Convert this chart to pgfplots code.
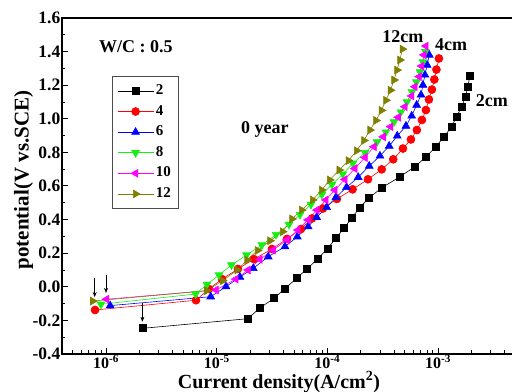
\documentclass[border=0pt]{standalone}
\usepackage{fontspec}
\setmainfont{Liberation Serif}
\usepackage{pgfplots}
\pgfplotsset{compat=1.18}
\usetikzlibrary{arrows.meta}
\definecolor{cOlive}{RGB}{128,128,0}
\definecolor{cGreen}{RGB}{20,240,20}
\definecolor{cMag}{RGB}{255,0,255}
\definecolor{cBlue}{RGB}{0,0,255}
\definecolor{cRed}{RGB}{255,0,0}
\begin{document}
\begin{tikzpicture}
\path[use as bounding box, clip] (0bp,0bp) rectangle (512bp,392bp);
\begin{axis}[
  at={(62bp,38bp)}, anchor=south west,
  scale only axis, width=452bp, height=336bp,
  xmode=log, xmin=4e-7, xmax=4.86e-3, ymin=-0.4, ymax=1.6,
  tick pos=left,
  axis line style={line width=1.3bp},
  major tick style={line width=1bp, black}, minor tick style={line width=0.9bp, black},
  major tick length=6bp, minor tick length=3.5bp,
  xtick={1e-6,1e-5,1e-4,1e-3},
  xticklabels={10\textsuperscript{-6},10\textsuperscript{-5},10\textsuperscript{-4},10\textsuperscript{-3}},
  minor xtick={5e-7,6e-7,7e-7,8e-7,9e-7,2e-6,3e-6,4e-6,5e-6,6e-6,7e-6,8e-6,9e-6,2e-5,3e-5,4e-5,5e-5,6e-5,7e-5,8e-5,9e-5,2e-4,3e-4,4e-4,5e-4,6e-4,7e-4,8e-4,9e-4,2e-3,3e-3,4e-3},
  ytick={-0.4,-0.2,0,0.2,0.4,0.6,0.8,1.0,1.2,1.4,1.6},
  minor ytick={-0.3,-0.1,0.1,0.3,0.5,0.7,0.9,1.1,1.3,1.5},
  yticklabel style={/pgf/number format/.cd, fixed, fixed zerofill, precision=1, assume math mode=true, /tikz/.cd, font=\bfseries\fontsize{17.5bp}{20bp}\selectfont, inner sep=1.5bp},
  xticklabel style={font=\bfseries\fontsize{16bp}{18bp}\selectfont, inner sep=0.5bp},
  xlabel={Current density(A/cm\textsuperscript{2})},
  xlabel style={at={(axis description cs:0.48,0)}, anchor=base, yshift=-34bp, font=\bfseries\fontsize{20bp}{24bp}\selectfont},
  ylabel={potential(V vs.SCE)},
  ylabel style={at={(axis description cs:-0.085,0.518)}, anchor=center, font=\bfseries\fontsize{21bp}{24bp}\selectfont},
  legend style={at={(axis description cs:0.1106,0.827)}, anchor=north west, draw=black!70, line width=0.6bp,
    font=\bfseries\fontsize{15bp}{17bp}\selectfont, inner sep=5bp, row sep=1.6bp,
    nodes={inner sep=2bp, text height=11bp, text depth=4bp}},
  legend cell align=left,
  legend image code/.code={\draw[mark repeat=2,mark phase=2] plot coordinates {(0bp,0bp)(18bp,0bp)(36bp,0bp)};},
]
\addplot[color=black, line width=0.6bp, mark=square*, mark size=3.5bp, mark options={solid}] coordinates {
(2.16e-6,-0.247)(1.905e-5,-0.190)(2.46e-5,-0.126)(3.30e-5,-0.068)(4.14e-5,-0.011)(5.28e-5,0.051)(6.58e-5,0.108)(8.22e-5,0.167)(1.007e-4,0.229)(1.197e-4,0.290)(1.42e-4,0.350)(1.667e-4,0.411)(1.97e-4,0.473)(2.39e-4,0.530)(3.11e-4,0.590)(4.53e-4,0.655)(6.18e-4,0.715)(7.78e-4,0.773)(9.57e-4,0.834)(1.13e-3,0.893)(1.33e-3,0.953)(1.47e-3,1.013)(1.64e-3,1.072)(1.77e-3,1.132)(1.86e-3,1.191)(1.94e-3,1.255)};
\addlegendentry{2}
\addplot[color=cRed, line width=0.6bp, mark=*, mark size=4bp, mark options={solid}] coordinates {
(7.96e-7,-0.138)(6.50e-6,-0.080)(8.51e-6,-0.013)(1.117e-5,0.046)(1.556e-5,0.106)(2.17e-5,0.165)(3.16e-5,0.225)(4.32e-5,0.285)(5.78e-5,0.344)(7.26e-5,0.407)(9.12e-5,0.466)(1.22e-4,0.523)(1.69e-4,0.580)(2.33e-4,0.640)(3.10e-4,0.699)(3.94e-4,0.759)(4.82e-4,0.823)(5.69e-4,0.877)(6.44e-4,0.933)(7.16e-4,0.993)(7.78e-4,1.052)(8.28e-4,1.115)(8.81e-4,1.174)(9.27e-4,1.234)(9.68e-4,1.293)(1.019e-3,1.359)};
\addlegendentry{4}
\addplot[color=cBlue, line width=0.6bp, mark=triangle*, mark size=4.5bp, mark options={solid}] coordinates {
(1.09e-6,-0.112)(8.83e-6,-0.059)(1.213e-5,0.001)(1.62e-5,0.058)(2.14e-5,0.110)(2.92e-5,0.179)(4.14e-5,0.239)(5.35e-5,0.298)(6.71e-5,0.358)(8.0e-5,0.414)(9.86e-5,0.473)(1.197e-4,0.533)(1.49e-4,0.592)(1.90e-4,0.652)(2.39e-4,0.719)(2.99e-4,0.779)(3.62e-4,0.838)(4.28e-4,0.898)(5.13e-4,0.957)(5.78e-4,1.017)(6.41e-4,1.082)(7.02e-4,1.142)(7.31e-4,1.201)(7.62e-4,1.261)(7.98e-4,1.320)(8.34e-4,1.380)};
\addlegendentry{6}
\addplot[color=cGreen, line width=0.6bp, mark=triangle*, mark size=4.5bp, mark options={solid, rotate=180}] coordinates {
(9.0e-7,-0.104)(6.45e-6,-0.043)(8.17e-6,0.014)(1.05e-5,0.070)(1.36e-5,0.130)(1.86e-5,0.189)(2.56e-5,0.249)(3.44e-5,0.311)(4.50e-5,0.371)(5.66e-5,0.430)(7.11e-5,0.490)(8.93e-5,0.550)(1.10e-4,0.609)(1.38e-4,0.671)(1.70e-4,0.734)(2.19e-4,0.799)(2.81e-4,0.862)(3.38e-4,0.921)(4.00e-4,0.981)(4.62e-4,1.040)(5.24e-4,1.100)(5.81e-4,1.160)(6.38e-4,1.219)(6.87e-4,1.279)(7.31e-4,1.338)(7.69e-4,1.401)};
\addlegendentry{8}
\addplot[color=cMag, line width=0.6bp, mark=triangle*, mark size=4.5bp, mark options={solid, rotate=90}] coordinates {
(1.01e-6,-0.074)(9.86e-6,-0.019)(1.49e-5,0.046)(1.92e-5,0.100)(2.46e-5,0.163)(3.23e-5,0.219)(4.32e-5,0.279)(5.42e-5,0.338)(6.68e-5,0.398)(8.05e-5,0.457)(9.7e-5,0.517)(1.17e-4,0.576)(1.44e-4,0.639)(1.77e-4,0.704)(2.19e-4,0.770)(2.64e-4,0.834)(3.20e-4,0.893)(3.73e-4,0.953)(4.37e-4,1.009)(5.02e-4,1.072)(5.78e-4,1.136)(6.18e-4,1.191)(6.76e-4,1.251)(7.11e-4,1.314)(7.46e-4,1.380)(7.78e-4,1.433)};
\addlegendentry{10}
\addplot[color=cOlive, line width=0.6bp, mark=triangle*, mark size=4.5bp, mark options={solid, rotate=-90}] coordinates {
(7.58e-7,-0.085)(8.13e-6,-0.023)(1.13e-5,0.036)(1.53e-5,0.100)(1.88e-5,0.160)(2.34e-5,0.216)(3.03e-5,0.274)(3.94e-5,0.328)(4.79e-5,0.404)(5.86e-5,0.457)(7.36e-5,0.517)(8.89e-5,0.576)(1.05e-4,0.636)(1.28e-4,0.695)(1.55e-4,0.751)(1.84e-4,0.810)(2.14e-4,0.871)(2.43e-4,0.933)(2.75e-4,0.990)(3.08e-4,1.050)(3.38e-4,1.110)(3.72e-4,1.170)(4.00e-4,1.231)(4.26e-4,1.290)(4.53e-4,1.350)(4.76e-4,1.415)};
\addlegendentry{12}
\node[font=\bfseries\fontsize{18bp}{20bp}\selectfont] at (axis description cs:0.1637,0.914) {W/C : 0.5};
\node[font=\bfseries\fontsize{18bp}{20bp}\selectfont] at (axis description cs:0.449,0.667) {0 year};
\node[font=\bfseries\fontsize{18bp}{20bp}\selectfont] at (axis description cs:0.754,0.946) {12cm};
\node[font=\bfseries\fontsize{18bp}{20bp}\selectfont] at (axis description cs:0.861,0.920) {4cm};
\node[font=\bfseries\fontsize{18bp}{20bp}\selectfont] at (axis description cs:0.951,0.754) {2cm};
\draw[-{Stealth[length=5bp,width=4bp]}, line width=0.6bp] (axis cs:7.9e-7,0.052) -- (axis cs:7.9e-7,-0.061);
\draw[-{Stealth[length=5bp,width=4bp]}, line width=0.6bp] (axis cs:1.0e-6,0.070) -- (axis cs:1.0e-6,-0.036);
\draw[-{Stealth[length=5bp,width=4bp]}, line width=0.6bp] (axis cs:2.13e-6,-0.096) -- (axis cs:2.13e-6,-0.208);
\end{axis}
\end{tikzpicture}
\end{document}
